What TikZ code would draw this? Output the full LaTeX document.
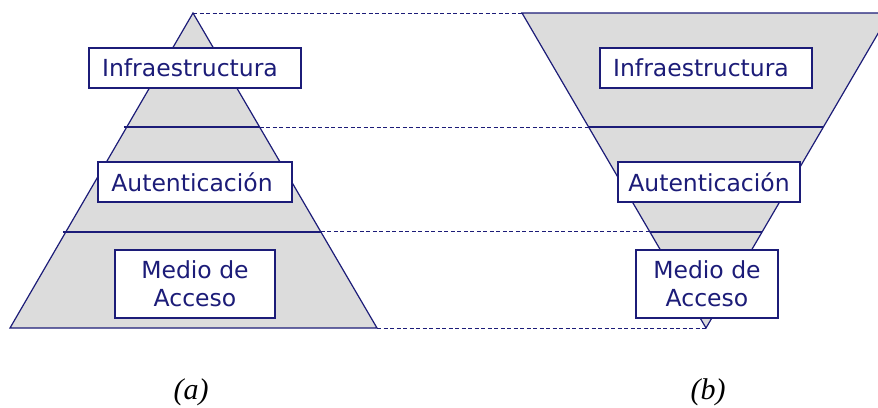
\documentclass[tikz,border=0pt]{standalone}
\usepackage{fontspec}
\setmainfont{DejaVu Sans}
\newfontfamily\capfont{Liberation Serif}
\usetikzlibrary{calc}
\definecolor{navy}{HTML}{1C1C78}
\definecolor{layer}{HTML}{DCDCDC}
\tikzset{
  edge/.style={draw=navy, line width=1.2pt, line join=miter},
  guide/.style={draw=navy, line width=1pt, dash pattern=on 4pt off 2.5pt},
  box/.style={draw=navy, line width=1.4pt, fill=white, inner sep=0pt,
              text=navy, align=center, font=\fontsize{23.5}{28}\selectfont},
  caption/.style={font=\capfont\itshape\fontsize{30}{34}\selectfont}
}
\begin{document}
\begin{tikzpicture}[x=1pt,y=-1pt]
\useasboundingbox (0,0) rectangle (878,407);
\begin{scope}
\clip (0,0) rectangle (878,407);
% pyramid (a) and inverted pyramid (b)
\coordinate (aT) at (193,13);
\coordinate (aL) at (10,328);
\coordinate (aR) at (377,328);
\coordinate (bL) at (522,13);
\coordinate (bR) at (890,13);
\coordinate (bB) at (706,328);
\fill[layer] (aT) -- (aL) -- (aR) -- cycle;
\fill[layer] (bL) -- (bR) -- (bB) -- cycle;
% level boundaries
\coordinate (a1l) at ($(aT)!0.362!(aL)$);
\coordinate (a1r) at ($(aT)!0.362!(aR)$);
\coordinate (b1l) at ($(bL)!0.362!(bB)$);
\coordinate (b1r) at ($(bR)!0.362!(bB)$);
\coordinate (a2l) at ($(aT)!0.695!(aL)$);
\coordinate (a2r) at ($(aT)!0.695!(aR)$);
\coordinate (b2l) at ($(bL)!0.695!(bB)$);
\coordinate (b2r) at ($(bR)!0.695!(bB)$);
\draw[edge] ($(a1l)+(-3,0)$) -- (a1r);
\draw[edge] (b1l) -- (b1r);
\draw[edge] ($(a2l)+(-3,0)$) -- (a2r);
\draw[edge] (b2l) -- (b2r);
\draw[edge] (aT) -- (aL) -- (aR) -- cycle;
\draw[edge] (bL) -- (bR) -- (bB) -- cycle;
% dashed links between the two figures
\draw[guide] (aT) -- (bL);
\draw[guide] (a1r) -- (b1l);
\draw[guide] (a2r) -- (b2l);
\draw[guide] (aR) -- (bB);
\end{scope}
% layer labels
\node[box, minimum width=212pt, minimum height=40pt] (ainf) at (195,68) {Infraestructura\hspace*{10pt}};
\node[box, minimum width=194pt, minimum height=40pt] (aaut) at (195,182) {Autenticación\hspace*{6pt}};
\node[box, minimum width=160pt, minimum height=68pt] (amed) at (195,284) {Medio de\\Acceso};
\node[box, minimum width=212pt, minimum height=40pt] (binf) at (706,68) {Infraestructura\hspace*{10pt}};
\node[box, minimum width=182pt, minimum height=40pt] (baut) at (709,182) {Autenticación};
\node[box, minimum width=142pt, minimum height=68pt] (bmed) at (707,284) {Medio de\\Acceso};
% captions
\node[caption] (capa) at (191,392) {(a)};
\node[caption] (capb) at (708,392) {(b)};
\end{tikzpicture}
\end{document}
